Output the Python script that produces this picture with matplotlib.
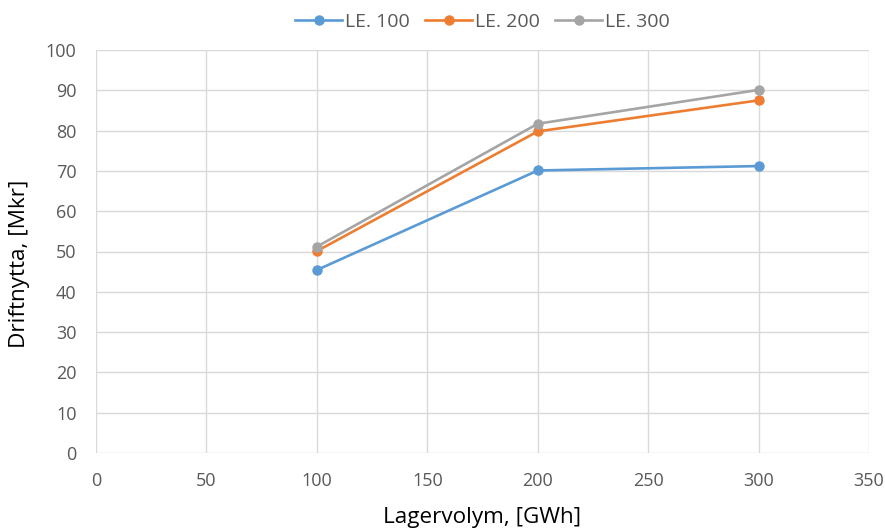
import matplotlib
matplotlib.use("Agg")
import matplotlib.pyplot as plt

plt.rcParams['font.family'] = ['Open Sans', 'DejaVu Sans']

lagervolym = [100, 200, 300]
le100 = [45.4, 70.1, 71.2]
le200 = [50.1, 79.8, 87.5]
le300 = [51.2, 81.7, 90.1]
series_names = ["LE. 100", "LE. 200", "LE. 300"]
colors = ["#5b9bd5", "#ed7d31", "#a5a5a5"]
x_ticks = [0, 50, 100, 150, 200, 250, 300, 350]
y_ticks = [0, 10, 20, 30, 40, 50, 60, 70, 80, 90, 100]

fig = plt.figure(figsize=(8.85, 5.29), dpi=100)
ax = fig.add_axes([96/885, 1 - 453/529, (869 - 96)/885, (453 - 50)/529])

for vals, name, c in zip([le100, le200, le300], series_names, colors):
    ax.plot(lagervolym, vals, color=c, lw=1.9, marker='o', ms=6.5, label=name, zorder=3)

ax.set_xlim(0, 350)
ax.set_ylim(0, 100)
ax.set_xticks(x_ticks)
ax.set_yticks(y_ticks)
ax.grid(True, color="#d9d9d9", lw=1.0, zorder=0)
for s in ax.spines.values():
    s.set_visible(False)
ax.tick_params(length=0, labelsize=13, colors="#595959")
ax.tick_params(axis='y', pad=14)
ax.tick_params(axis='x', pad=14)
ax.set_xlabel("Lagervolym, [GWh]", fontsize=16.2, color="#000000")
ax.set_ylabel("Driftnytta, [Mkr]", fontsize=16.2, color="#000000")
ax.xaxis.set_label_coords(0.5, (453 - 518) / 403, transform=ax.transAxes)
ax.yaxis.set_label_coords((20 - 96) / 773, (453 - 264) / 403, transform=ax.transAxes)
ax.xaxis.label.set_va('center')
ax.yaxis.label.set_va('center')

leg = ax.legend(loc="center", bbox_to_anchor=(0.5, 1 + (50 - 22) / 403), ncol=3, frameon=False,
                fontsize=14, handlelength=2.4, columnspacing=0.8, handletextpad=0.15,
                borderaxespad=0.0)
for t in leg.get_texts():
    t.set_color("#595959")

fig.savefig("out.png", dpi=100)
